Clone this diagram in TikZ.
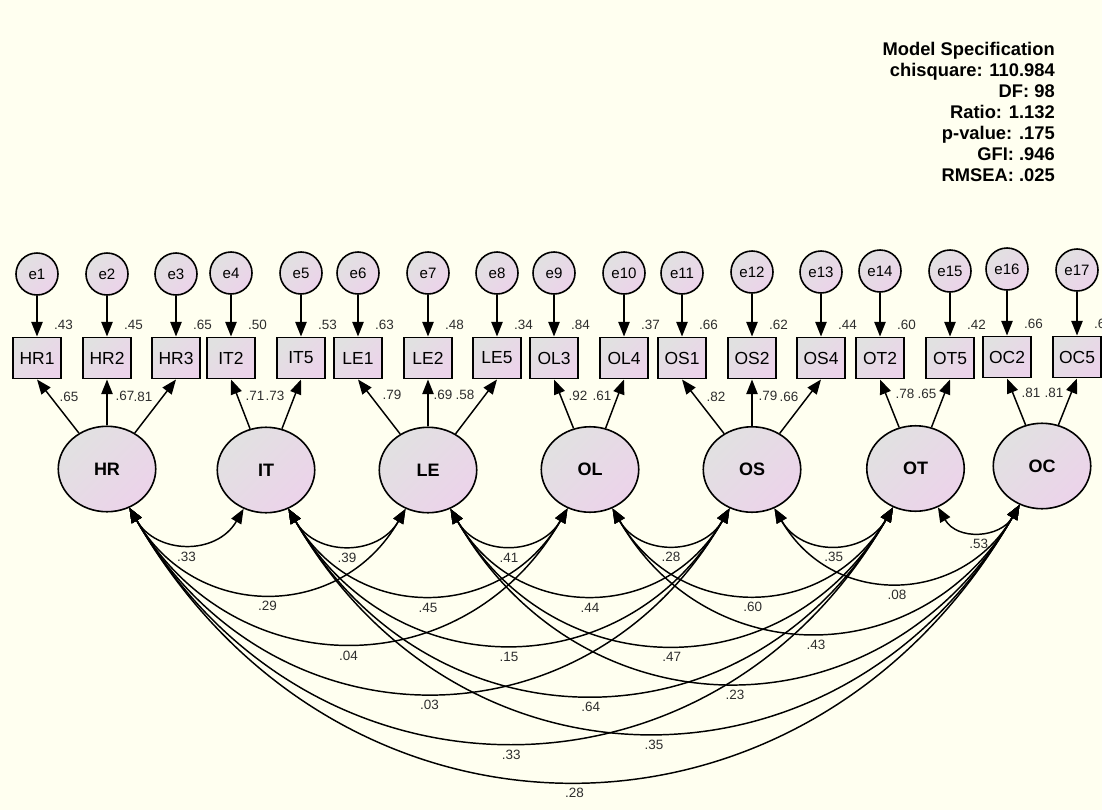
\documentclass[tikz,border=0pt]{standalone}
\usepackage{fontspec}
\setmainfont{Liberation Sans}
\usetikzlibrary{arrows.meta,shapes.geometric,calc}
\definecolor{paper}{RGB}{255,255,240}
\definecolor{shadeA}{RGB}{225,225,225}
\definecolor{shadeB}{RGB}{236,211,234}
\definecolor{numgray}{RGB}{45,45,45}

\begin{document}
\begin{tikzpicture}[x=0.75pt,y=0.75pt,
  semtip/.tip={Triangle[length=11pt,width=8.5pt]},
  fillgrad/.style={left color=shadeA,right color=shadeB,shading angle=45},
  latent/.style={ellipse,draw,line width=1.2pt,fillgrad,minimum width=73.1pt,
    minimum height=64.1pt,inner sep=0pt,font=\fontsize{13.5pt}{15pt}\selectfont\bfseries},
  obs/.style={rectangle,draw,line width=1.2pt,fillgrad,minimum width=36pt,
    minimum height=31pt,inner sep=0pt,font=\fontsize{13.1pt}{15pt}\selectfont},
  err/.style={circle,draw,line width=1.2pt,fillgrad,minimum size=31.5pt,
    inner sep=0pt,font=\fontsize{11.3pt}{13pt}\selectfont},
  num/.style={inner sep=0pt,text=numgray,font=\fontsize{10.1pt}{12pt}\selectfont},
  covlab/.style={num,midway,yshift=-9.75pt},
  fitline/.style={inner sep=0pt,anchor=base east,font=\fontsize{13.75pt}{16pt}\selectfont\bfseries},
  regarrow/.style={line width=1.1pt,-semtip},
  covarc/.style={line width=1.1pt,semtip-semtip,out=-60,in=-120,looseness=1.21},
]
% canvas
\useasboundingbox (0,0) rectangle (1102,-810);
\clip (0,0) rectangle (1102,-810);
\fill[paper] (0,0) rectangle (1102,-810);

% fit statistics
\node[fitline] (fit1) at (1055,-55)    {Model Specification};
\node[fitline] (fit2) at (1055,-76.1)  {chisquare: 110.984};
\node[fitline] (fit3) at (1055,-97.2)  {DF: 98};
\node[fitline] (fit4) at (1055,-118.3) {Ratio: 1.132};
\node[fitline] (fit5) at (1055,-139.4) {p-value: .175};
\node[fitline] (fit6) at (1055,-160.5) {GFI: .946};
\node[fitline] (fit7) at (1055,-181.6) {RMSEA: .025};

% latent factors
\node[latent] (HR) at (107,-469)   {HR};
\node[latent] (IT) at (266,-470)   {IT};
\node[latent] (LE) at (428,-470)   {LE};
\node[latent] (OL) at (590,-469.5) {OL};
\node[latent] (OS) at (752,-469.5) {OS};
\node[latent] (OT) at (915.5,-468.5) {OT};
\node[latent] (OC) at (1042,-466)  {OC};

% observed indicators
\foreach \n/\x/\y in {HR1/37/358, HR2/107/358, HR3/176/358, IT2/231/358, IT5/301/358,
  LE1/358/358, LE2/428/358, LE5/497/358, OL3/554/358, OL4/624/358, OS1/682/358,
  OS2/752/358, OS4/821/358, OT2/880/358, OT5/950/358, OC2/1007/357, OC5/1077/357}
  \node[obs] (\n) at (\x,-\y) {\n};

% error terms
\foreach \n/\x/\y in {e1/37/274, e2/107/274, e3/176/274, e4/231/273, e5/301/273,
  e6/358/273, e7/428/273, e8/497/273, e9/554/273, e10/624/273, e11/682/273,
  e12/752/272, e13/821/272, e14/880/271, e15/950/271, e16/1007/269, e17/1077/270}
  \node[err] (\n) at (\x,-\y) {\n};

% error -> indicator paths
\foreach \e/\o in {e1/HR1, e2/HR2, e3/HR3, e4/IT2, e5/IT5, e6/LE1, e7/LE2, e8/LE5,
  e9/OL3, e10/OL4, e11/OS1, e12/OS2, e13/OS4, e14/OT2, e15/OT5, e16/OC2, e17/OC5}
  \draw[regarrow] (\e) -- (\o);

% squared multiple correlations
\foreach \o/\v in {HR1/.43, HR2/.45, HR3/.65, IT2/.50, IT5/.53, LE1/.63, LE2/.48,
  LE5/.34, OL3/.84, OL4/.37, OS1/.66, OS2/.62, OS4/.44, OT2/.60, OT5/.42, OC2/.66, OC5/.66}
  \node[num] (r2\o) at ($(\o.north)+(26.5,11.5)$) {\v};

% factor loadings
\foreach \f/\o in {HR/HR1, HR/HR2, HR/HR3, IT/IT2, IT/IT5, LE/LE1, LE/LE2, LE/LE5,
  OL/OL3, OL/OL4, OS/OS1, OS/OS2, OS/OS4, OT/OT2, OT/OT5, OC/OC2, OC/OC5}
  \draw[regarrow] (\f) -- (\o.south);

\foreach \o/\x/\y/\v in {HR1/69/397/.65, HR2/125/396/.67, HR3/143/397/.81,
  IT2/255/396/.71, IT5/275/396/.73, LE1/392/395/.79, LE2/443/395/.69, LE5/465/395/.58,
  OL3/578/396/.92, OL4/602/396/.61, OS1/716/397/.82, OS2/768/396/.79, OS4/789/397/.66,
  OT2/905/394/.78, OT5/927/394/.65, OC2/1031/393/.81, OC5/1054/393/.81}
  \node[num] (ld\o) at (\x,-\y) {\v};

% factor covariances
\draw[covarc] (HR.-60) to node[covlab] (cHRIT) {.33} (IT.-120);
\draw[covarc] (IT.-60) to node[covlab] (cITLE) {.39} (LE.-120);
\draw[covarc] (LE.-60) to node[covlab] (cLEOL) {.41} (OL.-120);
\draw[covarc] (OL.-60) to node[covlab] (cOLOS) {.28} (OS.-120);
\draw[covarc] (OS.-60) to node[covlab] (cOSOT) {.35} (OT.-120);
\draw[covarc] (OT.-60) to node[covlab] (cOTOC) {.53} (OC.-120);
\draw[covarc] (HR.-60) to node[covlab] (cHRLE) {.29} (LE.-120);
\draw[covarc] (IT.-60) to node[covlab] (cITOL) {.45} (OL.-120);
\draw[covarc] (LE.-60) to node[covlab] (cLEOS) {.44} (OS.-120);
\draw[covarc] (OL.-60) to node[covlab] (cOLOT) {.60} (OT.-120);
\draw[covarc] (OS.-60) to node[covlab] (cOSOC) {.08} (OC.-120);
\draw[covarc] (HR.-60) to node[covlab] (cHROL) {.04} (OL.-120);
\draw[covarc] (IT.-60) to node[covlab] (cITOS) {.15} (OS.-120);
\draw[covarc] (LE.-60) to node[covlab] (cLEOT) {.47} (OT.-120);
\draw[covarc] (OL.-60) to node[covlab] (cOLOC) {.43} (OC.-120);
\draw[covarc] (HR.-60) to node[covlab] (cHROS) {.03} (OS.-120);
\draw[covarc] (IT.-60) to node[covlab] (cITOT) {.64} (OT.-120);
\draw[covarc] (LE.-60) to node[covlab] (cLEOC) {.23} (OC.-120);
\draw[covarc] (HR.-60) to node[covlab] (cHROT) {.33} (OT.-120);
\draw[covarc] (IT.-60) to node[covlab] (cITOC) {.35} (OC.-120);
\draw[covarc] (HR.-60) to node[covlab] (cHROC) {.28} (OC.-120);
\end{tikzpicture}
\end{document}
